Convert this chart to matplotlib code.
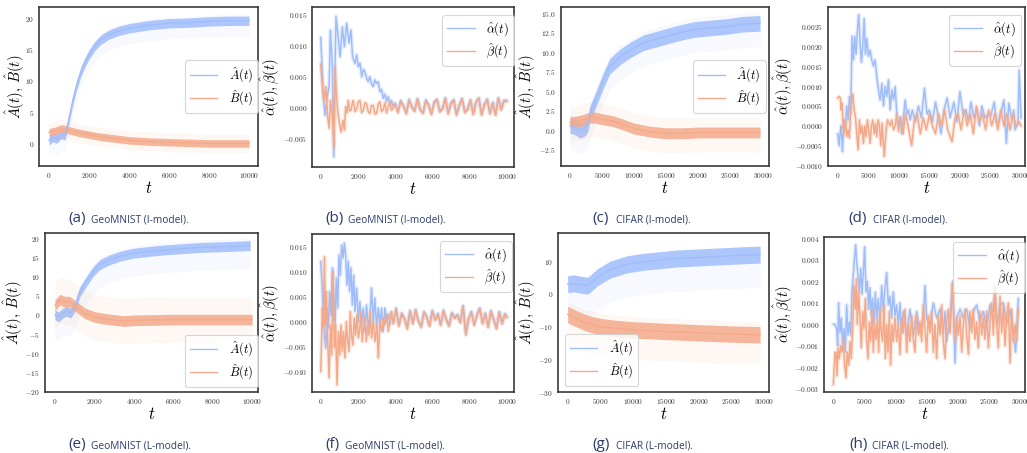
import matplotlib
matplotlib.use('Agg')
import matplotlib.pyplot as plt
from matplotlib.ticker import MultipleLocator
import numpy as np

plt.rcParams.update({
    'font.family': 'serif', 'font.serif': ['cmr10'], 'mathtext.fontset': 'cm',
    'axes.formatter.use_mathtext': True, 'axes.unicode_minus': True,
})

BLUE = '#a0bdfb'
ORANGE = '#f4aa8a'
NAVY = '#2b3b6c'

# ---------------- (a) GeoMNIST I-model : A, B ----------------
a_A_t = [0, 200, 400, 600, 800, 900, 1000, 1200, 1400, 1600, 1800, 2000, 2300, 2600, 3000, 3500, 4000, 5000, 6000, 7000, 8000, 9000, 10000]
a_A_mid = [0.5, 1.0, 0.8, 1.5, 1.3, 2.5, 4.0, 7.0, 9.5, 11.5, 13.0, 14.2, 15.6, 16.6, 17.4, 18.0, 18.4, 18.9, 19.2, 19.3, 19.5, 19.6, 19.6]
a_B_t = [0, 300, 600, 800, 1000, 1500, 2000, 2500, 3000, 3500, 4000, 5000, 6000, 7000, 8000, 9000, 10000]
a_B_mid = [1.8, 2.0, 2.4, 2.3, 2.1, 1.7, 1.4, 1.1, 0.9, 0.7, 0.5, 0.3, 0.2, 0.1, 0.0, 0.0, 0.0]
a_spread = {'A': (0.75, 2.5, 1.0), 'B': (0.6, 1.5, 1.5)}   # dense half-width, faint below, faint above

# ---------------- (b) GeoMNIST I-model : alpha, beta ----------------
b_al_t = [0, 140, 230, 320, 450, 520, 625, 700, 770, 820, 950, 1040, 1160, 1270, 1390, 1520, 1625, 1710, 1840, 1930,
          2020, 2110, 2200, 2290, 2375, 2460, 2550, 2640, 2730, 2820, 2910, 3000, 3090, 3180, 3270, 3360, 3450, 3540,
          3630, 3720, 3800, 3900] + list(range(4000, 10001, 150))
b_al = [0.0113, 0.0018, -0.0012, 0.0012, 0.0035, 0.0125, 0.0066, -0.0079, 0.0066, 0.0147, 0.0110, 0.0082, 0.0130,
        0.0098, 0.0136, 0.0104, 0.0125, 0.0082, 0.0071, 0.0085, 0.0066, 0.0072, 0.0050, 0.0062, 0.0058, 0.0048, 0.0042,
        0.0050, 0.0038, 0.0034, 0.0045, 0.0039, 0.0042, 0.0026, 0.0030, 0.0015, 0.0022, 0.0010, 0.0018, 0.0006, 0.0012,
        0.0002,
        0.0008, -0.0006, 0.0012, 0.0003, -0.0008, 0.0014, 0.0002, -0.0004, 0.0015, -0.0002, -0.0008, 0.0013, 0.0005,
        -0.0009, 0.0010, 0.0014, -0.0005, 0.0000, 0.0016, -0.0008, 0.0008, 0.0013, -0.0010, 0.0005, 0.0015, -0.0006,
        -0.0001, 0.0013, -0.0009, 0.0010, 0.0016, -0.0010, 0.0006, 0.0014, -0.0008, 0.0009, -0.0010, 0.0016, -0.0002,
        0.0012, 0.0012]
b_be_t = [0, 110, 180, 270, 375, 450, 520, 590, 660, 710, 770, 840, 910, 980, 1090, 1200, 1270, 1340, 1410, 1480, 1550,
          1625, 1700, 1750, 1840, 1930, 2020, 2110, 2200, 2290, 2375, 2460, 2550, 2640, 2730, 2820, 2910, 3000, 3090,
          3180, 3270, 3360, 3450, 3540, 3630, 3720, 3800, 3900] + list(range(4000, 10001, 150))
b_be = [0.0070, 0.0028, 0.0012, 0.0034, -0.0015, -0.0033, 0.0012, -0.0004, -0.0030, -0.0063, 0.0066, 0.0023, -0.0004,
        -0.0020, -0.0039, -0.0020, -0.0036, 0.0002, -0.0008, 0.0012, -0.0005, -0.0004, 0.0008, 0.0012, -0.0006, -0.0002,
        0.0010, 0.0012, -0.0008, -0.0004, 0.0008, 0.0007, -0.0006, -0.0009, 0.0004, 0.0004, -0.0010, -0.0009, 0.0006,
        0.0010, -0.0006, -0.0003, 0.0008, -0.0008, 0.0002, 0.0010, -0.0004, 0.0000,
        0.0006, -0.0008, 0.0010, 0.0002, -0.0010, 0.0012, 0.0000, -0.0006, 0.0014, -0.0004, -0.0009, 0.0011, 0.0004,
        -0.0011, 0.0008, 0.0013, -0.0007, -0.0002, 0.0015, -0.0010, 0.0006, 0.0012, -0.0012, 0.0003, 0.0014, -0.0008,
        -0.0003, 0.0012, -0.0011, 0.0009, 0.0015, -0.0012, 0.0004, 0.0013, -0.0010, 0.0007, -0.0012, 0.0015, -0.0004,
        0.0011, 0.0010]

# ---------------- (c) CIFAR I-model : A, B ----------------
c_A_t = [0, 500, 1000, 1500, 2000, 2500, 2800, 3100, 4200, 5200, 6200, 7800, 9400, 11400, 14000, 16600, 19200, 21800, 24400, 27000, 29600]
c_A_mid = [0.6, 0.5, 0.3, 0.0, 0.1, 0.4, 0.9, 2.1, 4.3, 6.4, 8.2, 9.4, 10.3, 11.2, 11.8, 12.4, 12.9, 13.1, 13.3, 13.6, 13.7]
c_B_t = [0, 1000, 2000, 3000, 4000, 5000, 6500, 8000, 10000, 12500, 15000, 17500, 20000, 25000, 29600]
c_B_mid = [1.0, 1.1, 1.3, 1.6, 1.6, 1.4, 1.2, 0.8, 0.2, -0.2, -0.4, -0.4, -0.3, -0.3, -0.3]
c_spread = {'A': (1.0, 3.0, 1.5), 'B': (0.7, 2.5, 2.0)}

# ---------------- (d) CIFAR I-model : alpha, beta ----------------
d_al_t = [0, 220, 380, 550, 765, 1040, 1260, 1475, 1690, 1910, 2130, 2350, 2570, 2790, 3000, 3220, 3440, 3660, 3880,
          4100, 4320, 4540, 4750, 5030, 5300, 5570, 5850, 6120, 6390, 6670, 6940, 7210, 7490, 7760, 8030, 8300, 8580,
          8850, 9130, 9400, 9670, 9950, 10200, 10500, 10760, 11040, 11300, 11580, 11860,
          12200, 12700, 13200, 13700, 14200, 14600, 15000, 15500, 16000, 16500, 16900, 17400, 17900, 18400, 19000,
          19500, 20000, 20500, 21000, 21400, 21800, 22300, 22800, 23200, 23600, 24100, 24600, 25000, 25600, 26000,
          26300, 26800, 27200, 27600, 28000, 28500, 28800, 29000, 29500, 29700, 30000]
d_al = [-0.0002, -0.0005, -0.0002, 0.0000, -0.00065, 0.00015, 0.0000, 0.0005, 0.00015, 0.00074, 0.0003, 0.00225,
        0.00166, 0.00225, 0.0018, 0.0024, 0.0028, 0.0021, 0.0016, 0.0020, 0.0027, 0.0018, 0.0022, 0.00175, 0.0019,
        0.00166, 0.0015, 0.00166, 0.00124, 0.0009, 0.00065, 0.00107, 0.0005, 0.0010, 0.00074, 0.00116, 0.0004, 0.0009,
        0.00065, 0.00099, 0.0003, 0.0000, 0.00023, -0.0002, 0.00023, 0.00065, 0.0003, 0.0004, 0.00015,
        0.0004, 0.0001, 0.0005, 0.0002, 0.00095, 0.0003, 0.0004, 0.0001, 0.0006, 0.0002, -0.0002, 0.0004, 0.0007,
        0.0002, 0.0006, 0.0001, 0.00086, 0.0003, 0.0004, 0.0001, 0.0006, 0.0002, 0.0004, 0.0000, 0.0005, 0.0002,
        0.0003, 0.00023, 0.0006, 0.0001, 0.00007, 0.0004, 0.00065, -0.00044, 0.00057, 0.00015, 0.0004, -0.0001,
        0.00007, 0.0014, 0.0002]
d_be_t = [0, 220, 440, 550, 710, 875, 1040, 1260, 1475, 1690, 1910, 2130, 2350, 2460, 2680, 2900, 3110, 3330, 3550,
          3770, 3990, 4210, 4430, 4640, 4860, 5080, 5300, 5520, 5740, 5960, 6180, 6390, 6610, 6830, 7050, 7270, 7600,
          7920, 8140, 8360, 8580, 8850, 9130, 9400, 9670, 9950,
          10300, 10700, 11100, 11500, 12100, 12500, 13000, 13500, 14000, 14500, 15000, 15500, 16000, 16500, 17000,
          17500, 18000, 18700, 19200, 19700, 20200, 20700, 21200, 21700, 22200, 22700, 23200, 23700, 24200, 24700,
          25200, 25700, 26200, 26700, 27200, 27700, 28200, 28700, 29200, 29700, 30000]
d_be = [0.0007, 0.00074, 0.0007, 0.0004, 0.00057, 0.0000, -0.0002, 0.00015, -0.00027, -0.0001, -0.00031, 0.0004,
        0.00078, 0.0008, 0.0004, 0.00023, -0.0002, -0.0006, 0.00015, -0.0002, 0.0000, -0.00044, 0.0000, -0.00027,
        0.00015, -0.0001, -0.00044, 0.0000, 0.00015, -0.0002, 0.00007, -0.00027, 0.00015, 0.0000, -0.0005, 0.00007,
        -0.00077, -0.0001, 0.00015, 0.00007, 0.0000, 0.00015, -0.0001, 0.0000, 0.0003, -0.00014,
        0.0002, -0.0002, 0.0003, 0.0000, -0.0005, 0.0001, 0.0003, -0.0002, 0.0002, -0.0001, 0.0003, 0.0000, -0.0002,
        0.0003, 0.0000, 0.0004, -0.0001, -0.0004, 0.0002, 0.0003, -0.0001, 0.0004, 0.0000, 0.0003, -0.0002, 0.0005,
        0.0001, 0.0003, -0.0001, 0.0004, 0.0000, 0.0003, -0.0001, 0.0004, 0.0000, 0.0003, -0.0001, 0.0003, 0.0000,
        0.0001, 0.0000]

# ---------------- (e) GeoMNIST L-model : A, B ----------------
e_A_t = [0, 200, 400, 600, 800, 1000, 1100, 1270, 1600, 1940, 2280, 2790, 3290, 3970, 4810, 5660, 7350, 9040, 9900]
e_A_mid = [0.0, -0.5, 0.5, 1.0, 0.5, 2.0, 3.5, 6.1, 8.8, 11.4, 13.2, 14.5, 15.4, 16.2, 16.7, 17.1, 17.7, 18.0, 18.2]
e_B_t = [0, 250, 500, 750, 1000, 1250, 1500, 2000, 2500, 3000, 3500, 4000, 5000, 6000, 8000, 10000]
e_B_mid = [2.5, 4.0, 3.5, 3.5, 2.5, 1.5, 0.5, -0.5, -1.0, -1.3, -1.6, -1.4, -1.3, -1.2, -1.2, -1.2]
e_spread = {'A': (1.3, 6.0, 2.0), 'B': (1.4, 6.0, 6.0)}

# ---------------- (f) GeoMNIST L-model : alpha, beta ----------------
f_al_t = [0, 90, 140, 200, 270, 340, 410, 480, 550, 625, 700, 770, 840, 910, 980, 1050, 1125, 1200, 1270, 1340, 1410,
          1480, 1550, 1625, 1700, 1770, 1840, 1930, 2020, 2100, 2200, 2290, 2375, 2460, 2550, 2640, 2730, 2820, 2910,
          3000, 3090, 3180, 3270, 3360, 3450, 3540, 3630, 3720, 3800] + list(range(3900, 10000, 150)) + [10000]
f_al = [0.0120, 0.0060, 0.0007, -0.0027, -0.0053, 0.0027, -0.0013, 0.0060, 0.0013, 0.0107, 0.0053, -0.0007, 0.0087,
        0.0027, 0.0133, 0.0093, 0.0153, 0.0127, 0.0157, 0.0133, 0.0073, 0.0120, 0.0060, 0.0107, 0.0033, 0.0093,
        0.0020, 0.0067, 0.0000, 0.0040, -0.0007, 0.0027, -0.0020, 0.0033, -0.0007, 0.0007, 0.0067, 0.0000, 0.0047,
        -0.0013, 0.0027, -0.0007, 0.0027, -0.0020, 0.0027, 0.0000, 0.0015, -0.0005, 0.0018,
        -0.0003, 0.0027, -0.0008, 0.0017, 0.0007, -0.0013, 0.0022, -0.0003, 0.0024, 0.0002, -0.0010, 0.0020, 0.0010,
        -0.0008, 0.0022, 0.0004, 0.0016, -0.0006, 0.0023, 0.0005, -0.0008, 0.0018, 0.0008, 0.0014, -0.0001, 0.0032,
        -0.0025, 0.0007, 0.0020, -0.0006, 0.0014, 0.0027, -0.0003, 0.0017, -0.0010, 0.0022, 0.0004, -0.0013, 0.0020,
        -0.0003, 0.0016, 0.0010]
f_be_t = [0, 90, 140, 200, 250, 300, 375, 450, 520, 590, 660, 730, 800, 875, 950, 1020, 1090, 1160, 1230, 1300, 1375,
          1450, 1520, 1590, 1660, 1730, 1800, 1875, 1950, 2020, 2090, 2160, 2230, 2300, 2375, 2450, 2520, 2590, 2660,
          2730, 2820, 2910, 3020, 3090, 3180, 3270, 3360, 3450, 3540, 3630, 3700, 3800] + list(range(3900, 10000, 150)) + [10000]
f_be = [-0.0100, 0.0027, -0.0013, 0.0130, -0.0007, 0.0060, -0.0040, -0.0113, -0.0007, -0.0067, 0.0100, -0.0053,
        -0.0007, -0.0127, -0.0020, -0.0067, -0.0007, -0.0060, -0.0020, -0.0073, 0.0000, -0.0040, -0.0060, 0.0020,
        -0.0033, -0.0047, 0.0007, -0.0027, 0.0013, -0.0033, -0.0020, 0.0020, -0.0040, -0.0013, 0.0007, -0.0040,
        -0.0007, -0.0027, 0.0020, -0.0033, 0.0000, -0.0040, -0.0007, -0.0073, 0.0000, -0.0020, 0.0007, -0.0007,
        0.0013, -0.0020, 0.0000, 0.0020,
        -0.0005, 0.0025, -0.0010, 0.0015, 0.0005, -0.0015, 0.0020, -0.0005, 0.0022, 0.0000, -0.0012, 0.0018, 0.0008,
        -0.0010, 0.0020, 0.0002, 0.0014, -0.0008, 0.0021, 0.0003, -0.0010, 0.0016, 0.0006, 0.0012, -0.0003, 0.0030,
        -0.0027, 0.0005, 0.0018, -0.0008, 0.0012, 0.0025, -0.0005, 0.0015, -0.0012, 0.0020, 0.0002, -0.0015, 0.0018,
        -0.0005, 0.0014, 0.0008]

# ---------------- (g) CIFAR L-model : A, B ----------------
g_A_t = [0, 1000, 2000, 3000, 3400, 4500, 6470, 9000, 11560, 16660, 21750, 26850, 29400]
g_A_mid = [3.0, 3.2, 2.8, 2.5, 3.0, 5.0, 7.4, 9.0, 9.8, 10.8, 11.3, 11.8, 12.0]
g_B_t = [0, 1000, 2000, 3000, 5000, 7500, 10000, 15000, 20000, 25000, 29400]
g_B_mid = [-6.3, -7.3, -8.2, -9.0, -10.0, -10.6, -11.0, -11.5, -11.9, -12.3, -12.5]
g_spread = {'A': (2.6, 10.0, 2.5), 'B': (2.5, 9.0, 4.0)}

# ---------------- (h) CIFAR L-model : alpha, beta ----------------
h_al_t = [0, 270, 530, 700, 850, 1070, 1280, 1500, 1710, 1920, 2135, 2350, 2560, 2780, 2990, 3200, 3420, 3580, 3740,
          3950, 4160, 4380, 4590, 4800, 5020, 5230, 5450, 5660, 5870, 6090, 6300, 6510, 6730, 6940, 7210, 7480, 7740,
          8010, 8280, 8540, 8810, 9080, 9340, 9610, 9880, 10140, 10410, 10680, 10940, 11210, 11750, 12280, 12810,
          13350, 13880, 14420, 14680, 14950, 15480, 16020, 16550, 17080, 17620, 17890, 18150, 18690, 19110, 19490,
          19750, 20290, 20820, 21360, 21890, 22420, 22960, 23490, 24030, 24560, 25090, 25630, 25890, 26160, 26700,
          27230, 27760, 28300, 28830, 29200, 29630]
h_al = [0.0000, 0.0000, -0.0002, -0.0010, 0.0010, -0.0004, 0.0003, -0.0010, -0.0002, -0.0013, 0.0009, -0.0005,
        0.0001, -0.0005, 0.0015, 0.0023, 0.0032, 0.0037, 0.0029, 0.0023, 0.0015, 0.0026, 0.0014, 0.0024, 0.0036,
        0.0015, 0.0020, 0.0007, 0.0017, 0.0004, 0.0012, 0.0000, 0.0015, 0.0003, 0.0012, 0.0001, 0.0018, 0.0006,
        0.0017, 0.0024, 0.0009, 0.0013, 0.0003, 0.0015, 0.0004, 0.0009, 0.0000, 0.0010, -0.0004, 0.0006, -0.0005,
        0.0007, -0.0005, 0.0006, -0.0004, 0.0004, 0.0018, 0.0003, 0.0000, 0.0010, 0.0003, 0.0007, -0.0004, 0.0006,
        -0.0008, 0.0003, 0.0020, -0.0018, 0.0003, 0.0007, 0.0003, 0.0007, -0.0002, 0.0006, 0.0009, 0.0001, 0.0006,
        -0.0002, 0.0009, 0.0006, 0.0017, 0.0000, 0.0009, 0.0010, 0.0000, 0.0007, -0.0005, -0.0013, 0.0012]
h_be_t = [0, 270, 430, 590, 750, 960, 1170, 1390, 1600, 1815, 2030, 2240, 2460, 2670, 2880, 3100, 3310, 3520, 3680,
          3840, 4060, 4270, 4480, 4700, 4910, 5130, 5340, 5550, 5770, 5980, 6190, 6410, 6620, 6830, 7050, 7260, 7480,
          7690, 7900, 8120, 8330, 8540, 8760, 8970, 9180, 9400, 9610, 9880, 10140, 10410, 10680, 10940, 11210, 11480,
          11750, 12010, 12280, 12550, 12810, 13080, 13350, 13610, 13880, 14150, 14420, 14680, 14950, 15220, 15480,
          15750, 16020, 16280, 16550, 16820, 17080, 17350, 17620, 17890, 18150, 18420, 18690, 18950, 19110, 19330,
          19540, 19750, 20020, 20290, 20560, 20820, 21090, 21360, 21630, 21890, 22160, 22420, 22690, 22960, 23220,
          23490, 23760, 24030, 24290, 24560, 24830, 25090, 25360, 25630, 25890, 26160, 26430, 26700, 26960, 27230,
          27500, 27760, 28030, 28300, 28570, 28830, 29100, 29360, 29630]
h_be = [-0.0028, -0.0013, -0.0013, -0.0024, -0.0011, -0.0016, -0.0010, -0.0013, -0.0007, -0.0019, -0.0025, -0.0013,
        -0.0019, -0.0008, -0.0016, -0.0002, 0.0018, 0.0007, 0.0021, 0.0000, 0.0015, 0.0003, -0.0011, 0.0006, -0.0002,
        0.0012, -0.0007, -0.0016, 0.0001, -0.0008, 0.0007, -0.0013, 0.0000, -0.0007, 0.0003, -0.0013, 0.0007,
        -0.0004, -0.0008, 0.0009, -0.0016, 0.0000, -0.0013, 0.0006, -0.0019, 0.0000, -0.0008, 0.0003, -0.0008, 0.0000,
        -0.0014, 0.0003, -0.0004, 0.0007, -0.0013, 0.0000, -0.0008, 0.0004, -0.0007, -0.0013, 0.0004, -0.0005, 0.0001,
        -0.0008, 0.0009, -0.0002, -0.0013, 0.0004, -0.0004, 0.0006, -0.0013, 0.0000, -0.0016, 0.0004, -0.0005, 0.0009,
        -0.0008, -0.0016, 0.0001, 0.0007, -0.0004, 0.0010, 0.0019, 0.0000, -0.0008, 0.0003, -0.0005, 0.0004, -0.0013,
        0.0000, 0.0007, -0.0005, -0.0014, 0.0006, -0.0004, 0.0007, -0.0007, 0.0001, -0.0011, 0.0006, -0.0005, 0.0003,
        -0.0007, 0.0006, -0.0011, 0.0000, 0.0010, -0.0005, 0.0017, 0.0000, -0.0011, 0.0013, -0.0004, 0.0009, -0.0010,
        0.0003, 0.0010, -0.0018, 0.0007, -0.0008, 0.0000, -0.0008, 0.0007]

captions = [('(a)', 'GeoMNIST (I-model).'), ('(b)', 'GeoMNIST (I-model).'), ('(c)', 'CIFAR (I-model).'),
            ('(d)', 'CIFAR (I-model).'), ('(e)', 'GeoMNIST (L-model).'), ('(f)', 'GeoMNIST (L-model).'),
            ('(g)', 'CIFAR (L-model).'), ('(h)', 'CIFAR (L-model).')]

W, H = 1027, 453
fig = plt.figure(figsize=(W / 100, H / 100), dpi=100)


def rect(l, r, t, b):
    return [l / W, 1 - b / H, (r - l) / W, (b - t) / H]


def style(ax, box, xlim, ylim, xstep, ystep, ylabel, ylab_right):
    l, r, t, b = box
    ax.set_xlim(*xlim)
    ax.set_ylim(*ylim)
    ax.xaxis.set_major_locator(MultipleLocator(xstep))
    ax.yaxis.set_major_locator(MultipleLocator(ystep))
    ax.tick_params(length=0, labelsize=5.3, pad=3.5, colors='#333333')
    for s in ax.spines.values():
        s.set_color('#3a3a3a')
        s.set_linewidth(1.2)
    ax.set_xlabel(r'$t$', fontsize=12, labelpad=0)
    ax.set_ylabel(ylabel, fontsize=10.5)
    ax.yaxis.set_label_coords((ylab_right - l) / (r - l), 0.5)


def band(ax, t, mid, spread, color, label):
    t = np.asarray(t, float)
    m = np.asarray(mid, float)
    half, lo, hi = spread
    ax.fill_between(t, m - lo, m + hi, color=color, alpha=0.08, lw=0)
    ax.fill_between(t, m - half, m + half, color=color, alpha=0.85, lw=0)
    ax.plot(t, m, color=color, lw=1.0, label=label)


def lines(ax, t, v, color, label):
    ax.plot(t, v, color=color, lw=3.0, alpha=0.25)
    ax.plot(t, v, color=color, lw=1.1, label=label)


def legend(ax, loc, anchor):
    lg = ax.legend(loc=loc, bbox_to_anchor=anchor, borderaxespad=0, fontsize=9, frameon=True,
                   fancybox=True, handlelength=2.2, handletextpad=0.9, borderpad=0.4, labelspacing=0.3)
    lg.get_frame().set_edgecolor('#cccccc')
    lg.get_frame().set_linewidth(0.8)
    for ln in lg.get_lines():
        ln.set_linewidth(1.0)


LAB_AB = r'$\hat{A}(t),\,\hat{B}(t)$'
LAB_ab = r'$\hat{\alpha}(t),\hat{\beta}(t)$'

# (a)
box = (39, 258, 7, 166)
ax = fig.add_axes(rect(*box))
band(ax, a_A_t, a_A_mid, a_spread['A'], BLUE, r'$\hat{A}(t)$')
band(ax, a_B_t, a_B_mid, a_spread['B'], ORANGE, r'$\hat{B}(t)$')
style(ax, box, (-500, 10450), (-3.6, 21.8), 2000, 5, LAB_AB, 27)
legend(ax, 'center right', (1.0, 0.5))

# (b)
box = (312, 514, 7, 167)
ax = fig.add_axes(rect(*box))
lines(ax, b_al_t, b_al, BLUE, r'$\hat{\alpha}(t)$')
lines(ax, b_be_t, b_be, ORANGE, r'$\hat{\beta}(t)$')
style(ax, box, (-470, 10390), (-0.0095, 0.0162), 2000, 0.005, LAB_ab, 282)
legend(ax, 'upper right', (1.0, 0.95))

# (c)
box = (561, 769, 7, 166)
ax = fig.add_axes(rect(*box))
band(ax, c_A_t, c_A_mid, c_spread['A'], BLUE, r'$\hat{A}(t)$')
band(ax, c_B_t, c_B_mid, c_spread['B'], ORANGE, r'$\hat{B}(t)$')
style(ax, box, (-1400, 31000), (-4.6, 15.8), 5000, 2.5, LAB_AB, 538)
legend(ax, 'center right', (0.985, 0.5))

# (d)
box = (828, 1025, 7, 166)
ax = fig.add_axes(rect(*box))
lines(ax, d_al_t, d_al, BLUE, r'$\hat{\alpha}(t)$')
lines(ax, d_be_t, d_be, ORANGE, r'$\hat{\beta}(t)$')
style(ax, box, (-1590, 30650), (-0.00101, 0.00299), 5000, 0.0005, LAB_ab, 795)
legend(ax, 'upper right', (0.98, 0.95))

# (e)
box = (45, 258, 233, 392)
ax = fig.add_axes(rect(*box))
band(ax, e_A_t, e_A_mid, e_spread['A'], BLUE, r'$\hat{A}(t)$')
band(ax, e_B_t, e_B_mid, e_spread['B'], ORANGE, r'$\hat{B}(t)$')
style(ax, box, (-500, 10300), (-20.2, 21.5), 2000, 5, LAB_AB, 25)
legend(ax, 'lower right', (1.0, 0.03))

# (f)
box = (312, 514, 234, 392)
ax = fig.add_axes(rect(*box))
lines(ax, f_al_t, f_al, BLUE, r'$\hat{\alpha}(t)$')
lines(ax, f_be_t, f_be, ORANGE, r'$\hat{\beta}(t)$')
style(ax, box, (-470, 10390), (-0.0141, 0.0175), 2000, 0.005, LAB_ab, 282)
legend(ax, 'upper right', (0.99, 0.955))

# (g)
box = (558, 769, 233, 392)
ax = fig.add_axes(rect(*box))
band(ax, g_A_t, g_A_mid, g_spread['A'], BLUE, r'$\hat{A}(t)$')
band(ax, g_B_t, g_B_mid, g_spread['B'], ORANGE, r'$\hat{B}(t)$')
style(ax, box, (-1480, 30760), (-30.0, 18.6), 5000, 10, LAB_AB, 538)
legend(ax, 'lower left', (0.033, 0.037))

# (h)
box = (824, 1025, 237, 392)
ax = fig.add_axes(rect(*box))
lines(ax, h_al_t, h_al, BLUE, r'$\hat{\alpha}(t)$')
lines(ax, h_be_t, h_be, ORANGE, r'$\hat{\beta}(t)$')
style(ax, box, (-1490, 30700), (-0.00315, 0.00406), 5000, 0.001, LAB_ab, 795)
legend(ax, 'upper right', (1.0, 0.968))

# captions
cap_pos = [(68, 91, 222), (325, 348, 222), (592, 616, 222), (848, 873, 222),
           (68, 91, 448), (325, 345, 448), (592, 616, 448), (849, 872, 448)]
for (tag, txt), (x1, x2, y) in zip(captions, cap_pos):
    fig.text(x1 / W, 1 - y / H, tag, fontsize=11, family='Open Sans', color=NAVY, va='baseline')
    fig.text(x2 / W, 1 - y / H, txt, fontsize=7.3, family='Open Sans', color=NAVY, va='baseline')

fig.savefig('out.png', dpi=100)
